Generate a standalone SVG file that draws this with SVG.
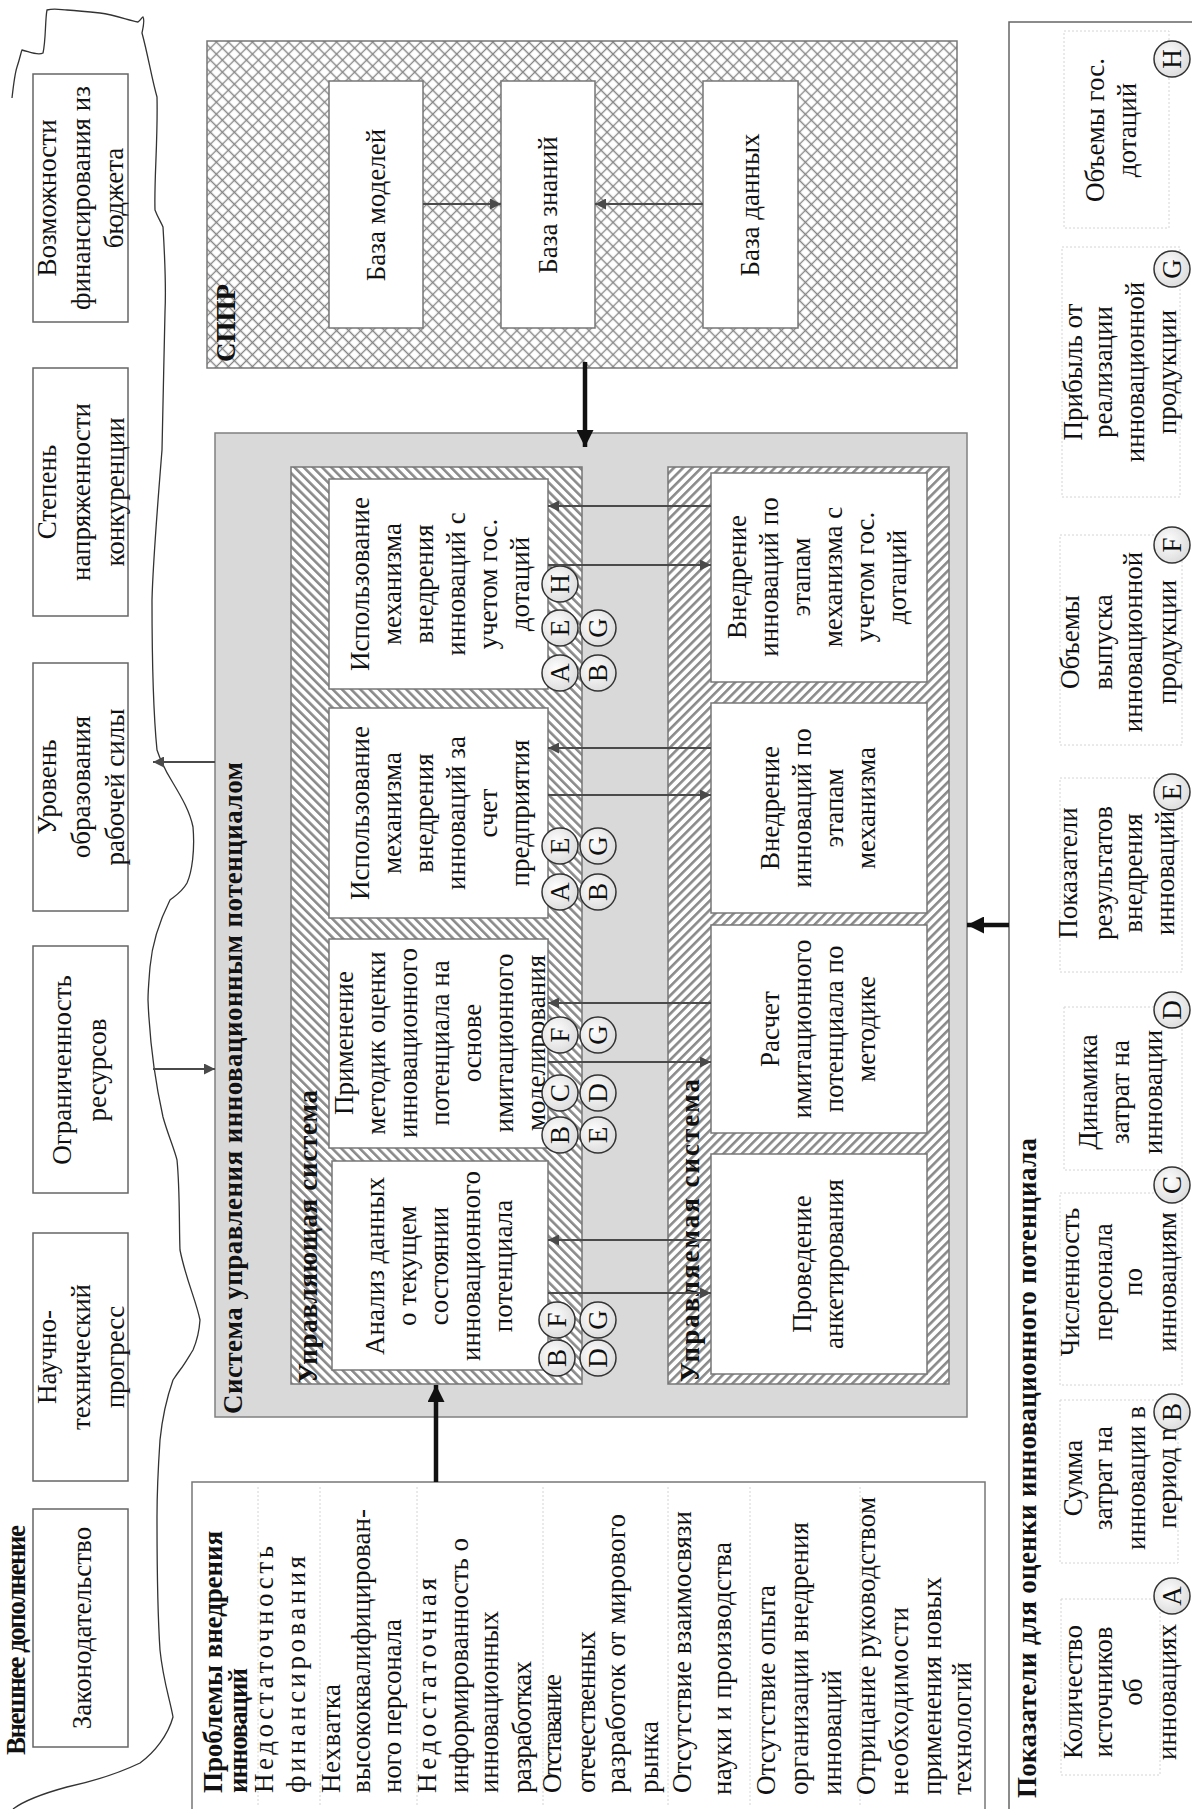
<svg xmlns="http://www.w3.org/2000/svg" width="1192" height="1809" viewBox="0 0 1192 1809">
<style>
.t{font-family:"Liberation Serif","Times New Roman",serif;font-size:27px;fill:#111}
.b{font-weight:bold}
.m{text-anchor:middle}
.box{fill:#fff;stroke:#777;stroke-width:1.5}
.ext{fill:#fff;stroke:#666;stroke-width:1.5}
.sub{fill:none;stroke:#d4d4d4;stroke-width:1;stroke-dasharray:2 2}
.circ{fill:url(#cg);stroke:#333;stroke-width:1.5}
.ln{stroke:#4a4a4a;stroke-width:2;fill:none}
.thick{stroke:#111;stroke-width:4.5;fill:none}
</style>
<defs>
<pattern id="stripeL" patternUnits="userSpaceOnUse" width="6.5" height="6.5" patternTransform="rotate(-45)">
<rect width="6.5" height="6.5" fill="#fff"/><rect width="2.6" height="6.5" fill="#8a8a8a"/>
</pattern>
<pattern id="stripeR" patternUnits="userSpaceOnUse" width="6.5" height="6.5" patternTransform="rotate(45)">
<rect width="6.5" height="6.5" fill="#fff"/><rect width="2.6" height="6.5" fill="#8a8a8a"/>
</pattern>
<pattern id="cross" patternUnits="userSpaceOnUse" width="8.5" height="8.5" patternTransform="rotate(45)">
<rect width="8.5" height="8.5" fill="#fff"/><path d="M0,4.25H8.5M4.25,0V8.5" stroke="#858585" stroke-width="1.3"/>
</pattern>
<radialGradient id="cg" cx="0.4" cy="0.4" r="0.7"><stop offset="0" stop-color="#fff"/><stop offset="1" stop-color="#d8d8d8"/></radialGradient>
<marker id="ah" viewBox="0 0 10 10" refX="10" refY="5" markerUnits="userSpaceOnUse" markerWidth="15" markerHeight="11" orient="auto"><path d="M0,0L10,5L0,10z" fill="#4a4a4a"/></marker>
<marker id="ahb" viewBox="0 0 10 10" refX="10" refY="5" markerUnits="userSpaceOnUse" markerWidth="20" markerHeight="17" orient="auto"><path d="M0,0L10,5L0,10z" fill="#111"/></marker>
</defs>
<rect width="1192" height="1809" fill="#fff"/>

<!-- external environment -->
<g id="external">
<path d="M12,98 C14,80 16,70 17,67 C20,58 21,52 22,50 C30,52 38,56 43,53 C46,40 45,20 47,10 C55,8 62,10 67,10 C80,11 90,12 100,13 C115,15 128,20 138,22 C141,20 142,17 143,17 C145,20 143,28 142,33 C148,55 152,80 157,97 C158,140 154,180 155,210 C158,218 161,222 163,227 C165,260 166,290 165,312 C164,360 163,400 162,450 C158,500 153,560 152,600 C152,660 154,720 157,750 C162,765 168,775 173,783 C182,798 190,812 193,827 C195,850 192,872 187,883 C182,892 175,896 170,900 C160,920 152,945 150,967 C149,980 148,990 148,1000 C150,1050 157,1090 163,1117 C168,1135 174,1148 177,1160 C180,1190 179,1225 180,1250 C186,1280 196,1300 200,1320 C199,1335 196,1343 193,1350 C188,1358 184,1365 180,1370 C177,1374 175,1377 173,1380 C166,1400 162,1420 160,1440 C158,1470 157,1495 157,1517 C157,1570 158,1620 160,1650 C163,1680 170,1700 173,1717 C168,1735 155,1752 140,1763 C115,1775 90,1782 67,1787 C45,1793 25,1800 13,1809" fill="none" stroke="#333" stroke-width="1.3"/>
<g transform="translate(0,1809) rotate(-90)"><text class="t b" x="54" y="25" font-size="25" textLength="230">Внешнее дополнение</text></g>
</g>
<g id="zakon"><rect class="ext" x="33" y="1509" width="95" height="238"/>
<g transform="translate(0,1809) rotate(-90)"><text class="t m" x="181" y="91">Законодательство</text></g></g>
<g id="ntp"><rect class="ext" x="33" y="1233" width="95" height="248"/>
<g transform="translate(0,1809) rotate(-90)"><text class="t m" x="452" y="56">Научно-</text><text class="t m" x="452" y="90">технический</text><text class="t m" x="452" y="124">прогресс</text></g></g>
<g id="resources"><rect class="ext" x="33" y="946" width="95" height="247"/>
<g transform="translate(0,1809) rotate(-90)"><text class="t m" x="739" y="71">Ограниченность</text><text class="t m" x="739" y="106">ресурсов</text></g></g>
<g id="education"><rect class="ext" x="33" y="663" width="95" height="248"/>
<g transform="translate(0,1809) rotate(-90)"><text class="t m" x="1022" y="56">Уровень</text><text class="t m" x="1022" y="90">образования</text><text class="t m" x="1022" y="124">рабочей силы</text></g></g>
<g id="competition"><rect class="ext" x="33" y="368" width="95" height="248"/>
<g transform="translate(0,1809) rotate(-90)"><text class="t m" x="1317" y="56">Степень</text><text class="t m" x="1317" y="90">напряженности</text><text class="t m" x="1317" y="124">конкуренции</text></g></g>
<g id="budget"><rect class="ext" x="33" y="74" width="95" height="248"/>
<g transform="translate(0,1809) rotate(-90)"><text class="t m" x="1611" y="56">Возможности</text><text class="t m" x="1611" y="90">финансирования из</text><text class="t m" x="1611" y="123">бюджета</text></g></g>

<!-- СППР -->
<g id="sppr"><rect x="207" y="41" width="750" height="327" fill="url(#cross)" stroke="#777" stroke-width="1.5"/>
<g transform="translate(0,1809) rotate(-90)"><text class="t b" x="1447" y="235" font-size="28">СППР</text></g></g>
<g id="models"><rect class="box" x="329" y="81" width="94" height="247"/>
<g transform="translate(0,1809) rotate(-90)"><text class="t m" x="1604" y="385">База моделей</text></g></g>
<g id="knowledge"><rect class="box" x="501" y="81" width="94" height="247"/>
<g transform="translate(0,1809) rotate(-90)"><text class="t m" x="1604" y="557">База знаний</text></g></g>
<g id="data"><rect class="box" x="703" y="81" width="95" height="247"/>
<g transform="translate(0,1809) rotate(-90)"><text class="t m" x="1604" y="759">База данных</text></g></g>

<!-- main system -->
<g id="system"><rect x="215" y="433" width="752" height="984" fill="#d9d9d9" stroke="#808080" stroke-width="1.5"/>
<g transform="translate(0,1809) rotate(-90)"><text class="t b" x="395" y="242" font-size="26" textLength="652">Система управления инновационным потенциалом</text></g></g>
<g id="controlling"><rect x="291" y="467" width="291" height="917" fill="url(#stripeL)" stroke="#777" stroke-width="1.5"/>
<g transform="translate(0,1809) rotate(-90)"><text class="t b" x="426" y="317" font-size="26" textLength="293">Управляющая система</text></g></g>
<g id="controlled"><rect x="668" y="467" width="281" height="917" fill="url(#stripeR)" stroke="#777" stroke-width="1.5"/>
<g transform="translate(0,1809) rotate(-90)"><text class="t b" x="427" y="699" font-size="26" textLength="303">Управляемая система</text></g></g>

<g id="b1"><rect class="box" x="329" y="479" width="219" height="210"/>
<g transform="translate(0,1809) rotate(-90)"><text class="t m" x="1225" y="369">Использование</text><text class="t m" x="1225" y="401">механизма</text><text class="t m" x="1225" y="433">внедрения</text><text class="t m" x="1225" y="465">инноваций с</text><text class="t m" x="1225" y="497">учетом гос.</text><text class="t m" x="1225" y="529">дотаций</text></g></g>
<g id="b2"><rect class="box" x="329" y="708" width="219" height="210"/>
<g transform="translate(0,1809) rotate(-90)"><text class="t m" x="996" y="369">Использование</text><text class="t m" x="996" y="401">механизма</text><text class="t m" x="996" y="433">внедрения</text><text class="t m" x="996" y="465">инноваций за</text><text class="t m" x="996" y="497">счет</text><text class="t m" x="996" y="529">предприятия</text></g></g>
<g id="b3"><rect class="box" x="329" y="939" width="219" height="209"/>
<g transform="translate(0,1809) rotate(-90)"><text class="t m" x="766" y="353">Применение</text><text class="t m" x="766" y="385">методик оценки</text><text class="t m" x="766" y="417">инновационного</text><text class="t m" x="766" y="449">потенциала на</text><text class="t m" x="766" y="481">основе</text><text class="t m" x="766" y="513">имитационного</text><text class="t m" x="766" y="545">моделирования</text></g></g>
<g id="b4"><rect class="box" x="332" y="1161" width="216" height="209"/>
<g transform="translate(0,1809) rotate(-90)"><text class="t m" x="543" y="384">Анализ данных</text><text class="t m" x="543" y="416">о текущем</text><text class="t m" x="543" y="448">состоянии</text><text class="t m" x="543" y="480">инновационного</text><text class="t m" x="543" y="512">потенциала</text></g></g>

<g id="c1"><rect class="box" x="711" y="473" width="216" height="209"/>
<g transform="translate(0,1809) rotate(-90)"><text class="t m" x="1232" y="746">Внедрение</text><text class="t m" x="1232" y="778">инноваций по</text><text class="t m" x="1232" y="810">этапам</text><text class="t m" x="1232" y="842">механизма с</text><text class="t m" x="1232" y="874">учетом гос.</text><text class="t m" x="1232" y="906">дотаций</text></g></g>
<g id="c2"><rect class="box" x="711" y="703" width="216" height="210"/>
<g transform="translate(0,1809) rotate(-90)"><text class="t m" x="1001" y="779">Внедрение</text><text class="t m" x="1001" y="811">инноваций по</text><text class="t m" x="1001" y="843">этапам</text><text class="t m" x="1001" y="875">механизма</text></g></g>
<g id="c3"><rect class="box" x="711" y="925" width="216" height="208"/>
<g transform="translate(0,1809) rotate(-90)"><text class="t m" x="780" y="779">Расчет</text><text class="t m" x="780" y="811">имитационного</text><text class="t m" x="780" y="843">потенциала по</text><text class="t m" x="780" y="875">методике</text></g></g>
<g id="c4"><rect class="box" x="711" y="1154" width="216" height="220"/>
<g transform="translate(0,1809) rotate(-90)"><text class="t m" x="545" y="811">Проведение</text><text class="t m" x="545" y="843">анкетирования</text></g></g>

<!-- circles in controlling system -->
<g id="marks">
<circle class="circ" cx="560" cy="584" r="18"/><circle class="circ" cx="560" cy="628" r="18"/><circle class="circ" cx="560" cy="673" r="18"/><circle class="circ" cx="598" cy="628" r="18"/><circle class="circ" cx="598" cy="673" r="18"/>
<circle class="circ" cx="560" cy="846" r="18"/><circle class="circ" cx="560" cy="892" r="18"/><circle class="circ" cx="598" cy="846" r="18"/><circle class="circ" cx="598" cy="892" r="18"/>
<circle class="circ" cx="560" cy="1035" r="18"/><circle class="circ" cx="560" cy="1093" r="18"/><circle class="circ" cx="560" cy="1135" r="18"/><circle class="circ" cx="598" cy="1035" r="18"/><circle class="circ" cx="598" cy="1093" r="18"/><circle class="circ" cx="598" cy="1135" r="18"/>
<circle class="circ" cx="557" cy="1320" r="18"/><circle class="circ" cx="598" cy="1320" r="18"/><circle class="circ" cx="557" cy="1358" r="18"/><circle class="circ" cx="598" cy="1358" r="18"/>
<g transform="translate(0,1809) rotate(-90)" font-size="26">
<text class="t m" x="1225" y="569">H</text><text class="t m" x="1181" y="569">E</text><text class="t m" x="1136" y="569">A</text><text class="t m" x="1181" y="607">G</text><text class="t m" x="1136" y="607">B</text>
<text class="t m" x="963" y="569">E</text><text class="t m" x="917" y="569">A</text><text class="t m" x="963" y="607">G</text><text class="t m" x="917" y="607">B</text>
<text class="t m" x="774" y="569">F</text><text class="t m" x="716" y="569">C</text><text class="t m" x="674" y="569">B</text><text class="t m" x="774" y="607">G</text><text class="t m" x="716" y="607">D</text><text class="t m" x="674" y="607">E</text>
<text class="t m" x="489" y="566">F</text><text class="t m" x="489" y="607">G</text><text class="t m" x="451" y="566">B</text><text class="t m" x="451" y="607">D</text>
</g></g>

<!-- problems -->
<g id="problems"><rect x="192" y="1482" width="793" height="1340" fill="#fff" stroke="#777" stroke-width="1.5"/>
<path d="M258,1487V1806M320,1487V1806M417,1487V1806M543,1487V1806M668,1487V1806M750,1487V1806M860,1487V1806" class="sub"/>
<g transform="translate(0,1809) rotate(-90)">
<text class="t b" x="16" y="222" textLength="262">Проблемы внедрения</text>
<text class="t b" x="16" y="247" textLength="125">инноваций</text>
<text class="t" x="16" y="273" textLength="247">Недостаточность</text>
<text class="t" x="16" y="305" textLength="237">финансирования</text>
<text class="t" x="16" y="340" textLength="109">Нехватка</text>
<text class="t" x="16" y="370" textLength="284">высококвалифицирован-</text>
<text class="t" x="16" y="401" textLength="174">ного персонала</text>
<text class="t" x="16" y="436" textLength="215">Недостаточная</text>
<text class="t" x="16" y="468" textLength="255">информированность о</text>
<text class="t" x="16" y="498" textLength="182">инновационных</text>
<text class="t" x="16" y="531" textLength="132">разработках</text>
<text class="t" x="16" y="561" textLength="119">Отставание</text>
<text class="t" x="16" y="595" textLength="162">отечественных</text>
<text class="t" x="16" y="625" textLength="279">разработок от мирового</text>
<text class="t" x="16" y="658" textLength="72">рынка</text>
<text class="t" x="16" y="691" textLength="282">Отсутствие взаимосвязи</text>
<text class="t" x="14" y="731" textLength="253">науки и производства</text>
<text class="t" x="14" y="775" textLength="210">Отсутствие опыта</text>
<text class="t" x="14" y="808" textLength="273">организации внедрения</text>
<text class="t" x="14" y="841" textLength="125">инноваций</text>
<text class="t" x="14" y="875" textLength="298">Отрицание руководством</text>
<text class="t" x="14" y="908" textLength="188">необходимости</text>
<text class="t" x="14" y="941" textLength="218">применения новых</text>
<text class="t" x="14" y="971" textLength="133">технологий</text>
</g></g>

<!-- indicators -->
<g id="indicators"><rect x="1009" y="22" width="200" height="1800" fill="#fff" stroke="#666" stroke-width="1.5"/>
<g transform="translate(0,1809) rotate(-90)"><text class="t b" x="11" y="1036" font-size="26" textLength="660">Показатели для оценки инновационного потенциала</text></g></g>
<g id="ind-h"><rect class="sub" x="1064" y="31" width="105" height="197"/>
<g transform="translate(0,1809) rotate(-90)"><text class="t m" x="1679" y="1104">Объемы гос.</text><text class="t m" x="1679" y="1136">дотаций</text></g></g>
<g id="ind-g"><rect class="sub" x="1062" y="247" width="118" height="250"/>
<g transform="translate(0,1809) rotate(-90)"><text class="t m" x="1437" y="1082">Прибыль от</text><text class="t m" x="1437" y="1112">реализации</text><text class="t m" x="1437" y="1144">инновационной</text><text class="t m" x="1437" y="1176">продукции</text></g></g>
<g id="ind-f"><rect class="sub" x="1060" y="535" width="122" height="210"/>
<g transform="translate(0,1809) rotate(-90)"><text class="t m" x="1167" y="1079">Объемы</text><text class="t m" x="1167" y="1112">выпуска</text><text class="t m" x="1167" y="1142">инновационной</text><text class="t m" x="1167" y="1176">продукции</text></g></g>
<g id="ind-e"><rect class="sub" x="1060" y="778" width="122" height="194"/>
<g transform="translate(0,1809) rotate(-90)"><text class="t m" x="936" y="1077">Показатели</text><text class="t m" x="936" y="1112">результатов</text><text class="t m" x="936" y="1142">внедрения</text><text class="t m" x="936" y="1174">инноваций</text></g></g>
<g id="ind-d"><rect class="sub" x="1064" y="1007" width="118" height="163"/>
<g transform="translate(0,1809) rotate(-90)"><text class="t m" x="717" y="1097">Динамика</text><text class="t m" x="717" y="1129">затрат на</text><text class="t m" x="717" y="1162">инновации</text></g></g>
<g id="ind-c"><rect class="sub" x="1060" y="1193" width="122" height="192"/>
<g transform="translate(0,1809) rotate(-90)"><text class="t m" x="527" y="1079">Численность</text><text class="t m" x="527" y="1112">персонала</text><text class="t m" x="527" y="1142">по</text><text class="t m" x="527" y="1176">инновациям</text></g></g>
<g id="ind-b"><rect class="sub" x="1060" y="1400" width="118" height="163"/>
<g transform="translate(0,1809) rotate(-90)"><text class="t m" x="331" y="1082">Сумма</text><text class="t m" x="331" y="1112">затрат на</text><text class="t m" x="331" y="1145">инновации в</text><text class="t m" x="331" y="1176">период n</text></g></g>
<g id="ind-a"><rect class="sub" x="1061" y="1599" width="99" height="176"/>
<g transform="translate(0,1809) rotate(-90)"><text class="t m" x="117" y="1082">Количество</text><text class="t m" x="117" y="1112">источников</text><text class="t m" x="117" y="1142">об</text><text class="t m" x="117" y="1176">инновациях</text></g></g>
<g id="ind-marks">
<circle class="circ" cx="1172" cy="59" r="18"/><circle class="circ" cx="1172" cy="269" r="18"/><circle class="circ" cx="1172" cy="545" r="18"/><circle class="circ" cx="1172" cy="792" r="18"/><circle class="circ" cx="1172" cy="1010" r="18"/><circle class="circ" cx="1172" cy="1185" r="18"/><circle class="circ" cx="1172" cy="1412" r="18"/><circle class="circ" cx="1172" cy="1596" r="18"/>
<g transform="translate(0,1809) rotate(-90)" font-size="26">
<text class="t m" x="1750" y="1181">H</text><text class="t m" x="1540" y="1181">G</text><text class="t m" x="1264" y="1181">F</text><text class="t m" x="1017" y="1181">E</text><text class="t m" x="799" y="1181">D</text><text class="t m" x="624" y="1181">C</text><text class="t m" x="397" y="1181">B</text><text class="t m" x="213" y="1181">A</text>
</g></g>

<!-- connectors -->
<g id="connectors">
<line class="ln" x1="423" y1="204" x2="501" y2="204" marker-end="url(#ah)"/>
<line class="ln" x1="703" y1="204" x2="595" y2="204" marker-end="url(#ah)"/>
<line class="thick" x1="585" y1="362" x2="585" y2="447" marker-end="url(#ahb)"/>
<line class="ln" x1="711" y1="506" x2="548" y2="506" marker-end="url(#ah)"/>
<line class="ln" x1="548" y1="565" x2="711" y2="565" marker-end="url(#ah)"/>
<line class="ln" x1="711" y1="748" x2="548" y2="748" marker-end="url(#ah)"/>
<line class="ln" x1="548" y1="795" x2="711" y2="795" marker-end="url(#ah)"/>
<line class="ln" x1="711" y1="1003" x2="548" y2="1003" marker-end="url(#ah)"/>
<line class="ln" x1="548" y1="1062" x2="711" y2="1062" marker-end="url(#ah)"/>
<line class="ln" x1="711" y1="1240" x2="548" y2="1240" marker-end="url(#ah)"/>
<line class="ln" x1="548" y1="1293" x2="711" y2="1293" marker-end="url(#ah)"/>
<line class="ln" x1="215" y1="762" x2="153" y2="762" marker-end="url(#ah)"/>
<line class="ln" x1="153" y1="1069" x2="215" y2="1069" marker-end="url(#ah)"/>
<line class="thick" x1="1009" y1="925" x2="967" y2="925" marker-end="url(#ahb)"/>
<line class="thick" x1="436" y1="1482" x2="436" y2="1385" marker-end="url(#ahb)"/>
</g>
</svg>
